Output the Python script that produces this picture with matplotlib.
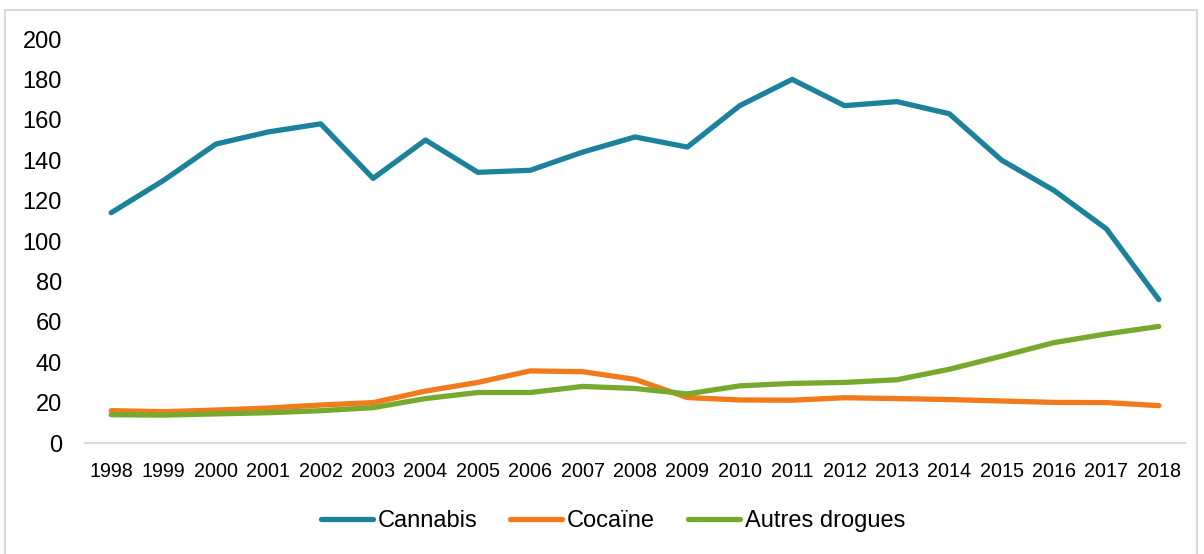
import matplotlib
matplotlib.use("Agg")
import matplotlib.pyplot as plt
from matplotlib.patches import Rectangle

plt.rcParams['font.family'] = ['Liberation Sans', 'DejaVu Sans']

years = [str(y) for y in range(1998, 2019)]
cannabis = [114, 130, 148, 154, 158, 131, 150, 134, 135, 144, 151.5,
            146.5, 167, 180, 167, 169, 163, 140, 125, 106, 71]
cocaine = [16, 15.5, 16.3, 17.3, 18.8, 20, 25.7, 30, 35.7, 35.3, 31.5,
           22.5, 21.3, 21.2, 22.4, 22, 21.5, 20.8, 20.1, 20, 18.5]
autres = [14, 13.8, 14.4, 15, 16, 17.5, 22, 25, 25, 28, 27,
          24.3, 28.3, 29.5, 30, 31.3, 36.5, 43, 49.7, 54, 57.7]

fig = plt.figure(figsize=(12.04, 5.54), dpi=100)
ax = fig.add_axes([85 / 1204, 111 / 554, 1100 / 1204, 404 / 554])

x = range(len(years))
ax.plot(x, cannabis, color='#1C819B', lw=3.8, solid_capstyle='round', label='Cannabis')
ax.plot(x, cocaine, color='#F07A1C', lw=3.8, solid_capstyle='round', label='Cocaïne')
ax.plot(x, autres, color='#77A92E', lw=3.8, solid_capstyle='round', label='Autres drogues')

ax.set_xlim(-0.5, len(years) - 0.5)
ax.set_ylim(0, 200)
ax.set_yticks(range(0, 201, 20))
ax.set_xticks(list(x))
ax.set_xticklabels(years, fontsize=14.2)
ax.tick_params(axis='y', labelsize=17, length=0, pad=16.5)
ax.tick_params(axis='x', length=0, pad=14)
for s in ['top', 'right', 'left']:
    ax.spines[s].set_visible(False)
ax.spines['bottom'].set_color('#D9D9D9')
ax.spines['bottom'].set_linewidth(1.5)

fig.legend(loc='center', bbox_to_anchor=(613 / 1204, 1 - 521 / 554), ncol=3,
           frameon=False, fontsize=17, handlelength=2.2, handletextpad=0.2,
           columnspacing=1.4)

fig.add_artist(Rectangle((5 / 1204, -0.05), 1192 / 1204, 1.05 - 10 / 554,
                         transform=fig.transFigure, fill=False,
                         edgecolor='#D9D9D9', lw=1.5, clip_on=False))

fig.savefig('out.png', dpi=100)
